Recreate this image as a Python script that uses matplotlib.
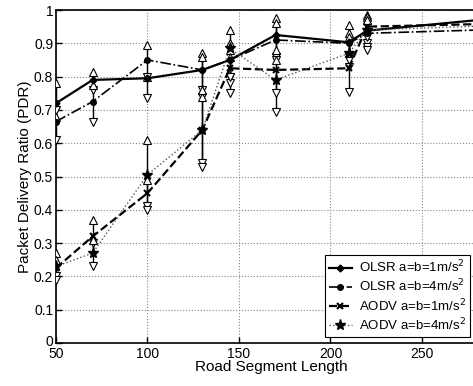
import matplotlib
matplotlib.use("Agg")
import matplotlib.pyplot as plt
import matplotlib.transforms as mtransforms
import numpy as np

plt.rcParams['font.family'] = ['Liberation Sans', 'DejaVu Sans']

x = [50, 70, 100, 130, 145, 170, 210, 220, 300]

olsr1 = [0.72, 0.79, 0.795, 0.82, 0.85, 0.925, 0.903, 0.938, 0.98]
olsr1_lo = [0.70, 0.76, 0.735, 0.76, 0.80, 0.86, 0.86, 0.90, 0.98]
olsr1_hi = [0.78, 0.815, 0.80, 0.87, 0.90, 0.976, 0.955, 0.985, 0.98]

olsr4 = [0.665, 0.725, 0.85, 0.82, 0.85, 0.91, 0.90, 0.93, 0.943]
olsr4_lo = [0.61, 0.665, 0.80, 0.74, 0.78, 0.85, 0.85, 0.89, 0.943]
olsr4_hi = [0.68, 0.775, 0.895, 0.86, 0.88, 0.96, 0.93, 0.97, 0.943]

aodv1 = [0.225, 0.32, 0.45, 0.64, 0.825, 0.82, 0.825, 0.95, 0.96]
aodv1_lo = [0.20, 0.30, 0.41, 0.54, 0.75, 0.75, 0.755, 0.92, 0.96]
aodv1_hi = [0.27, 0.37, 0.49, 0.74, 0.86, 0.88, 0.87, 0.98, 0.96]

aodv4 = [0.23, 0.27, 0.505, 0.64, 0.885, 0.79, 0.87, 0.94, 0.955]
aodv4_lo = [0.19, 0.23, 0.40, 0.53, 0.80, 0.695, 0.83, 0.88, 0.955]
aodv4_hi = [0.25, 0.31, 0.61, 0.76, 0.94, 0.85, 0.92, 0.97, 0.955]

labels = [r'OLSR a=b=1m/s$^2$', r'OLSR a=b=4m/s$^2$',
          r'AODV a=b=1m/s$^2$', r'AODV a=b=4m/s$^2$']

fig = plt.figure(figsize=(4.73, 3.86), dpi=100)
ax = fig.add_axes([56/473, 1-343/386, 430/473, 333/386])

series = [
    (olsr1, olsr1_lo, olsr1_hi, dict(ls='-', lw=1.6, marker='D', ms=3.5)),
    (olsr4, olsr4_lo, olsr4_hi, dict(ls='-.', lw=1.2, marker='o', ms=4)),
    (aodv1, aodv1_lo, aodv1_hi, dict(ls='--', lw=1.6, marker='x', ms=4, mew=1.5)),
    (aodv4, aodv4_lo, aodv4_hi, dict(ls=':', lw=1.0, marker='*', ms=8)),
]

handles = []
for (y, lo, hi, st), lab in zip(series, labels):
    xa = np.array(x[:-1]); lo_a = np.array(lo[:-1]); hi_a = np.array(hi[:-1])
    ax.vlines(xa, lo_a, hi_a, colors='black', lw=1.0, zorder=2)
    ax.plot(xa, hi_a, ls='none', marker='^', ms=6, mfc='white', mec='black', mew=0.8, zorder=3)
    ax.plot(xa, lo_a, ls='none', marker='v', ms=6, mfc='white', mec='black', mew=0.8, zorder=3)
    color = '#555555' if st['ls'] == ':' else 'black'
    h, = ax.plot(x, y, color=color, mfc='black', mec='black', label=lab, zorder=4, **st)
    handles.append(h)

ax.set_xlim(50, 285)
ax.set_ylim(0, 1)
ax.set_xticks([50, 100, 150, 200, 250])
ax.set_yticks(np.round(np.arange(0, 1.01, 0.1), 1))
ax.set_yticklabels(['0', '0.1', '0.2', '0.3', '0.4', '0.5', '0.6', '0.7', '0.8', '0.9', '1'])
ax.tick_params(direction='in', labelsize=10, length=4, width=1, pad=2)
ax.tick_params(axis='x', pad=3)
ax.grid(True, ls=':', color='#888888', lw=0.8)
for s in ax.spines.values():
    s.set_linewidth(1.2)
ax.set_xlabel('Road Segment Length', fontsize=11, labelpad=-1)
ax.set_ylabel('Packet Delivery Ratio (PDR)', fontsize=11, labelpad=1)

# nudge the "0" y tick label up slightly so it does not collide with "50"
zero_lab = ax.get_yticklabels()[0]
zero_lab.set_transform(zero_lab.get_transform() +
                       mtransforms.ScaledTranslation(0, 3/100, fig.dpi_scale_trans))

leg = ax.legend(handles=handles, loc='lower right', bbox_to_anchor=(470/473, 1-337/386),
                bbox_transform=fig.transFigure, fontsize=9.5, frameon=True, fancybox=False,
                edgecolor='black', framealpha=1, handlelength=1.8, borderpad=0.3,
                labelspacing=0.2, handletextpad=0.5, borderaxespad=0)
leg.get_frame().set_linewidth(0.8)

fig.savefig('out.png', dpi=100)
